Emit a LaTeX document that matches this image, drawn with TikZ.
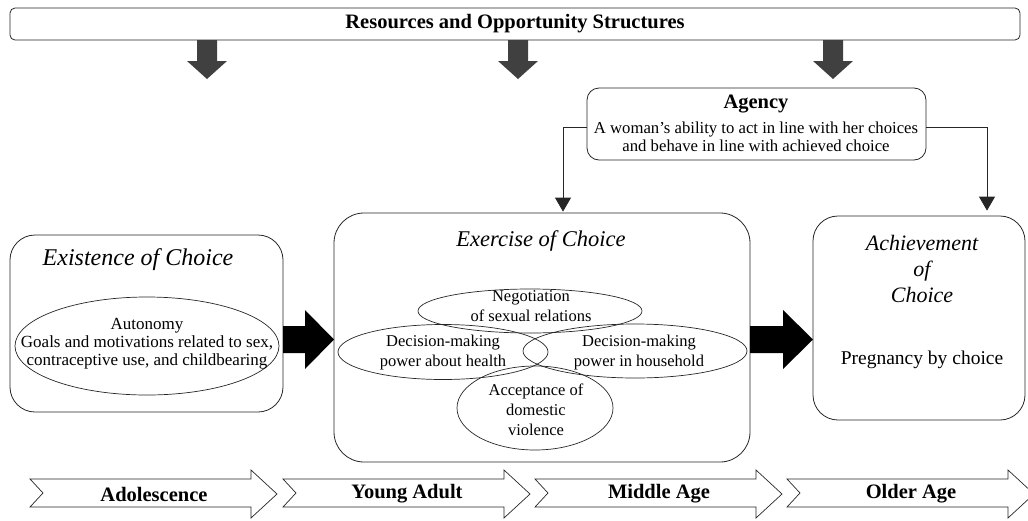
\documentclass[tikz,border=0pt]{standalone}
\usepackage{fontspec}
\setmainfont{Liberation Serif}
\usetikzlibrary{arrows.meta,shapes.geometric,calc}
\begin{document}
\begin{tikzpicture}[x=1pt,y=-1pt,
  rbox/.style={draw=black!85, line width=0.8pt, rounded corners=#1, inner sep=0pt},
  ell/.style={draw=black!85, ellipse, line width=0.7pt, inner sep=0pt},
  etext/.style={align=center, inner sep=0pt, font=\fontsize{16.5}{20}\selectfont},
  ttl/.style={align=center, inner sep=0pt, font=\fontsize{22.5}{26}\selectfont\itshape},
  garrow/.style={fill=black!75},
  barrow/.style={fill=black},
  conn/.style={draw=black!85, line width=0.8pt, shorten >=1pt, -{Triangle[width=16pt,length=14pt]}},
  chev/.style={draw=black!85, line width=0.7pt, fill=white},
  chevlabel/.style={inner sep=0pt, font=\fontsize{20.5}{22}\selectfont\bfseries}
]
\useasboundingbox (0,0) rectangle (1028,520);

% top bar
\node[rbox=5pt, minimum width=1010pt, minimum height=32pt,
      font=\fontsize{20.5}{22}\selectfont\bfseries] (res) at (515,24) {Resources and Opportunity Structures};
\foreach \c in {207,518,833}{
  \fill[garrow] ({\c-10},40) -- ({\c+10},40) -- ({\c+10},61) -- ({\c+20},61) -- (\c,79) -- ({\c-20},61) -- ({\c-10},61) -- cycle;
}

% agency
\node[rbox=12pt, minimum width=339pt, minimum height=72pt] (agency) at (756.5,124) {};
\node[inner sep=0pt, font=\fontsize{20.5}{22}\selectfont\bfseries] (agencyT) at (756,104) {Agency};
\node[etext, font=\fontsize{16.7}{17.5}\selectfont] (agencyD) at (756,137) {A woman’s ability to act in line with her choices\\and behave in line with achieved choice};

% existence
\node[rbox=25pt, minimum width=273pt, minimum height=177pt] (exist) at (146.5,323.5) {};
\node[ttl, font=\fontsize{24}{26}\selectfont\itshape] (existT) at (138,260) {Existence of Choice};
\node[ell, minimum width=264pt, minimum height=98pt] (auton) at (147,346) {};
\node[etext, font=\fontsize{17}{18}\selectfont] (autonT) at (147,344) {Autonomy\\Goals and motivations related to sex,\\contraceptive use, and childbearing};

% exercise
\node[rbox=30pt, minimum width=416pt, minimum height=249pt] (exer) at (542,337.5) {};
\node[ttl] (exerT) at (541,241) {Exercise of Choice};
\node[ell, minimum width=224pt, minimum height=44pt] (nego) at (530,311) {};
\node[ell, minimum width=210pt, minimum height=55pt] (health) at (443,352) {};
\node[ell, minimum width=224pt, minimum height=54pt] (house) at (635,351) {};
\node[ell, minimum width=156pt, minimum height=84pt] (accept) at (535,408) {};
\node[etext] (negoT) at (531,306) {Negotiation\\of sexual relations};
\node[etext] (healthT) at (443,353) {Decision-making\\power about health};
\node[etext] (houseT) at (639,353) {Decision-making\\power in household};
\node[etext] (acceptT) at (536,410) {Acceptance of\\domestic\\violence};

% achievement
\node[rbox=25pt, minimum width=212pt, minimum height=204pt] (achv) at (919,318) {};
\node[ttl, font=\fontsize{22}{26}\selectfont\itshape] (achvT) at (922,269) {Achievement\\of\\Choice};
\node[inner sep=0pt, font=\fontsize{19.5}{22}\selectfont] (preg) at (922,360) {Pregnancy by choice};

% block arrows
\fill[barrow] (283,326) -- (305,326) -- (305,310) -- (334,339.5) -- (305,369) -- (305,353) -- (283,353) -- cycle;
\fill[barrow] (750,326) -- (783,326) -- (783,310) -- (813,339.5) -- (783,369) -- (783,353) -- (750,353) -- cycle;

% agency connectors
\coordinate (aL) at (563,127);
\coordinate (aR) at (987,127);
\draw[conn] (agency.west |- aL) -| (exer.north -| aL);
\draw[conn] (agency.east |- aR) -| ([yshift=4pt]achv.north -| aR);

% life stages
\foreach \L/\lab/\nm in {30/Adolescence/s1, 283/Young Adult/s2, 535/Middle Age/s3, 787/Older Age/s4}{
  \draw[chev] (\L,479) -- ({\L+221},479) -- ({\L+221},470) -- ({\L+247},494) -- ({\L+221},518) -- ({\L+221},507) -- (\L,507) -- ({\L+13},493) -- cycle;
  \node[chevlabel] (\nm) at ({\L+124},494) {\lab};
}
\end{tikzpicture}
\end{document}
